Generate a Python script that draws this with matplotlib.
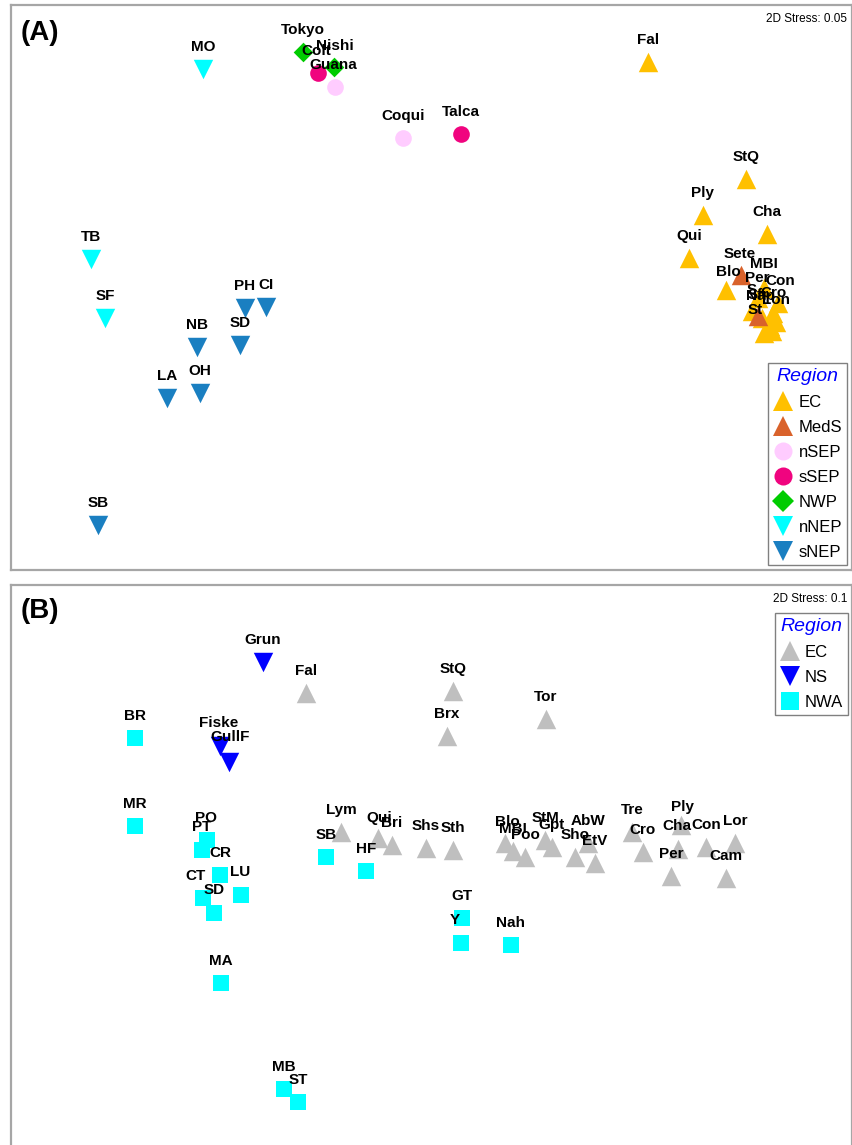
import matplotlib
matplotlib.use("Agg")
import matplotlib.pyplot as plt
from matplotlib.lines import Line2D

plt.rcParams['font.family'] = ['Liberation Sans', 'DejaVu Sans']

# Panel A data: nMDS coordinates (screen units, y down)
a_ec_lab = ["Fal", "StQ", "Ply", "Cha", "Qui", "Blo", "MBI", "Per", "Con", "Cro", "S", "Nap", "Lon", "St", "", ""]
a_ec_x = [648, 746, 703, 767, 689, 726, 764, 758, 778, 773, 752, 762, 776, 770, 764, 772]
a_ec_y = [62, 179, 215, 234, 258, 290, 288, 298, 303, 313, 311, 318, 322, 326, 333, 331]

a_meds_lab = ["Sete", "Sfr"]
a_meds_x = [741, 758]
a_meds_y = [275, 316]

a_nsep_lab = ["Guana", "Coqui"]
a_nsep_x = [335, 403]
a_nsep_y = [87, 138]

a_ssep_lab = ["Colt", "Talca"]
a_ssep_x = [318, 461]
a_ssep_y = [73, 134]

a_nwp_lab = ["Tokyo", "Nishi"]
a_nwp_x = [303, 334]
a_nwp_y = [52, 67]

a_nnep_lab = ["MO", "TB", "SF"]
a_nnep_x = [203, 91, 105]
a_nnep_y = [69, 259, 318]

a_snep_lab = ["PH", "CI", "NB", "SD", "LA", "OH", "SB"]
a_snep_x = [245, 266, 197, 240, 167, 200, 98]
a_snep_y = [308, 307, 347, 345, 398, 393, 525]

# Panel B data
b_ec_lab = ["Fal", "StQ", "Tor", "Brx", "Lym", "Qui", "Bri", "Shs", "Sth",
            "Blo", "MBI", "Poo", "StM", "Gpt", "AbW", "Sho", "EtV",
            "Tre", "Cro", "Ply", "Cha", "Per", "Con", "Lor", "Cam"]
b_ec_x = [306, 453, 546, 447, 341, 378, 392, 426, 453,
          505, 513, 525, 545, 552, 588, 575, 595,
          632, 643, 681, 678, 671, 706, 735, 726]
b_ec_y = [693, 691, 719, 736, 832, 838, 845, 848, 850,
          843, 851, 857, 840, 847, 843, 857, 863,
          832, 852, 825, 849, 876, 847, 843, 878]

b_ns_lab = ["Grun", "Fiske", "GullF"]
b_ns_x = [263, 220, 229]
b_ns_y = [662, 746, 762]

b_nwa_lab = ["BR", "MR", "PO", "PT", "CR", "LU", "CT", "SD", "SB", "HF",
             "GT", "Y", "Nah", "MA", "MB", "ST"]
b_nwa_x = [135, 135, 207, 202, 220, 241, 203, 214, 326, 366,
           462, 461, 511, 221, 284, 298]
b_nwa_y = [738, 826, 840, 850, 875, 895, 898, 913, 857, 871,
           918, 943, 945, 983, 1089, 1102]

# label offsets that differ from the default (dx, dy in screen units)
a_label_shift = {"Nishi": (1, -21), "Colt": (-2, -22), "Guana": (-2, -22),
                 "Blo": (2, -18), "MBI": (0, -24), "Per": (-1, -20), "Con": (2, -22),
                 "Cro": (1, -20), "S": (0, -21), "Nap": (-2, -22), "Lon": (0, -22),
                 "St": (-15, -16), "Sete": (-1, -21), "Sfr": (0, -21)}
b_label_shift = {"Fiske": (-1, -23), "GullF": (1, -25), "PO": (-1, -22), "PT": (0, -23),
                 "CR": (0, -22), "LU": (-1, -23), "CT": (-7, -22), "SD": (0, -23),
                 "Y": (-6, -23), "ST": (0, -22), "Qui": (1, -20), "Bri": (0, -22),
                 "Blo": (2, -21), "Ply": (2, -18), "Cha": (-1, -23)}

COLORS = {"EC": "#FFC000", "MedS": "#D9622B", "nSEP": "#FFCCFF", "sSEP": "#F0047F",
          "NWP": "#00CC00", "nNEP": "#00FFFF", "sNEP": "#1A7FC1",
          "ECg": "#BFBFBF", "NS": "#0000FF", "NWA": "#00FFFF"}


def draw_group(ax, labels, xs, ys, color, marker, size, shifts):
    ax.scatter(xs, ys, s=size ** 2, c=color, marker=marker, linewidths=0, zorder=2)
    for lab, x, y in zip(labels, xs, ys):
        if not lab:
            continue
        dx, dy = shifts.get(lab, (0, -22))
        ax.text(x + dx, y + dy, lab, fontsize=11, fontweight="bold",
                ha="center", va="center", zorder=3)


def frame(ax):
    ax.set_xticks([])
    ax.set_yticks([])
    for sp in ax.spines.values():
        sp.set_color("#A6A6A6")
        sp.set_linewidth(1.6)


def make_legend(ax, entries, loc, anchor):
    handles = [Line2D([], [], linestyle="none", marker=m, markersize=ms,
                      markerfacecolor=c, markeredgewidth=0, label=l)
               for l, c, m, ms in entries]
    leg = ax.legend(handles=handles, loc=loc, bbox_to_anchor=anchor, title="Region",
                    fontsize=12, title_fontsize=14, fancybox=False, framealpha=1,
                    edgecolor="#808080", handlelength=1.2, handletextpad=0.3,
                    labelspacing=0.6, borderpad=0.3, borderaxespad=0)
    leg.get_title().set_color("#0000FF")
    leg.get_title().set_style("italic")
    leg.get_frame().set_linewidth(1.0)


fig = plt.figure(figsize=(8.53, 11.45), dpi=100)
W, H = 853, 1145

# Panel A
axA = fig.add_axes([11 / W, 1 - 570 / H, 841 / W, 565 / H])
axA.set_xlim(11, 852)
axA.set_ylim(570, 5)
frame(axA)
draw_group(axA, a_ec_lab, a_ec_x, a_ec_y, COLORS["EC"], "^", 14, a_label_shift)
draw_group(axA, a_meds_lab, a_meds_x, a_meds_y, COLORS["MedS"], "^", 14, a_label_shift)
draw_group(axA, a_nsep_lab, a_nsep_x, a_nsep_y, COLORS["nSEP"], "o", 12, a_label_shift)
draw_group(axA, a_ssep_lab, a_ssep_x, a_ssep_y, COLORS["sSEP"], "o", 12, a_label_shift)
draw_group(axA, a_nwp_lab, a_nwp_x, a_nwp_y, COLORS["NWP"], "D", 10, a_label_shift)
draw_group(axA, a_nnep_lab, a_nnep_x, a_nnep_y, COLORS["nNEP"], "v", 14, a_label_shift)
draw_group(axA, a_snep_lab, a_snep_x, a_snep_y, COLORS["sNEP"], "v", 14, a_label_shift)
axA.text(0.994, 0.985, "2D Stress: 0.05", transform=axA.transAxes, ha="right", va="top", fontsize=8.5)
axA.text(0.012, 0.95, "(A)", transform=axA.transAxes, ha="left", va="center",
         fontsize=20, fontweight="bold")
make_legend(axA, [("EC", COLORS["EC"], "^", 15), ("MedS", COLORS["MedS"], "^", 15),
                  ("nSEP", COLORS["nSEP"], "o", 13), ("sSEP", COLORS["sSEP"], "o", 13),
                  ("NWP", COLORS["NWP"], "D", 11), ("nNEP", COLORS["nNEP"], "v", 15),
                  ("sNEP", COLORS["sNEP"], "v", 15)],
            "lower right", (0.994, 0.009))

# Panel B
axB = fig.add_axes([11 / W, -2 / H, 841 / W, 562 / H])
axB.set_xlim(11, 852)
axB.set_ylim(1147, 585)
frame(axB)
draw_group(axB, b_ec_lab, b_ec_x, b_ec_y, COLORS["ECg"], "^", 14, b_label_shift)
draw_group(axB, b_ns_lab, b_ns_x, b_ns_y, COLORS["NS"], "v", 14, b_label_shift)
draw_group(axB, b_nwa_lab, b_nwa_x, b_nwa_y, COLORS["NWA"], "s", 12, b_label_shift)
axB.text(0.994, 0.985, "2D Stress: 0.1", transform=axB.transAxes, ha="right", va="top", fontsize=8.5)
axB.text(0.012, 0.953, "(B)", transform=axB.transAxes, ha="left", va="center",
         fontsize=20, fontweight="bold")
make_legend(axB, [("EC", COLORS["ECg"], "^", 15), ("NS", COLORS["NS"], "v", 15),
                  ("NWA", COLORS["NWA"], "s", 13)],
            "upper right", (0.995, 0.950))

fig.savefig("out.png", dpi=100)
